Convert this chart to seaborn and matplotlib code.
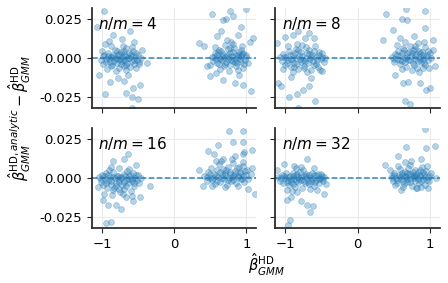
import matplotlib
matplotlib.use("Agg")
import matplotlib.pyplot as plt
import seaborn as sns
import pandas as pd

# ratios shown in the four panels
ratios = [4, 8, 16, 32]

# (beta_hd, diff * 1e3), one list per panel
pts_4 = [
    (-0.98, 1.2), (-0.95, -2.5), (-0.92, 3.4), (-0.90, -0.8), (-0.88, 0.5), (-0.86, -4.1),
    (-0.85, 2.2), (-0.83, -1.6), (-0.82, 5.0), (-0.80, 0.3), (-0.79, -3.2), (-0.78, 1.8),
    (-0.76, -6.0), (-0.75, -0.5), (-0.74, 3.9), (-0.73, -2.1), (-0.72, 0.9), (-0.70, -4.8),
    (-0.69, 2.7), (-0.68, -1.0), (-0.66, 6.2), (-0.65, -2.9), (-0.64, 0.0), (-0.62, 3.1),
    (-0.61, -5.5), (-0.60, 1.4), (-0.58, -1.8), (-0.57, 4.4), (-0.55, -3.6), (-0.54, 0.7),
    (-0.52, -0.9), (-0.50, 2.3), (-0.48, -2.4), (-0.46, 0.2), (-1.02, -1.3), (-1.00, 4.6),
    (-0.93, -6.8), (-0.87, 7.5), (-0.81, -8.2), (-0.71, 8.0), (-0.67, -7.6), (-0.59, 7.1),
    (-0.53, -6.4), (-0.44, 5.3), (-0.96, 8.9),
    (-0.97, 2.0), (-0.94, -0.3), (-0.91, 1.5), (-0.89, -2.7), (-0.84, 0.8), (-0.81, -0.4),
    (-0.77, 2.9), (-0.74, -3.8), (-0.71, -1.4), (-0.68, 1.1), (-0.66, -4.4), (-0.63, -0.1),
    (-0.60, 2.6), (-0.56, -1.0), (-0.53, 3.6), (-0.49, -4.0), (-0.87, -5.0), (-0.79, 4.5),
    (-0.69, 4.8), (-0.99, -3.7),
    (-0.97, 30.0), (-1.07, 20.0), (-0.61, 17.0), (-0.84, 14.5), (-0.72, 12.0), (-0.96, -23.0),
    (-0.57, -19.0), (-0.70, -14.7), (-0.59, -25.0), (-0.50, -26.0), (-0.38, -3.0), (-0.47, -17.0),
    (-0.59, -31.5), (-0.66, -22.0), (-0.89, -15.0), (-1.04, -11.0), (-0.78, -12.5), (-0.64, -10.5),
    (-0.90, 11.0), (-0.55, 10.0),
    (0.52, 0.8), (0.54, -2.0), (0.56, 3.5), (0.58, -0.5), (0.60, 1.9), (0.62, -3.8),
    (0.63, 0.2), (0.65, 4.6), (0.66, -1.4), (0.68, 2.6), (0.69, -5.2), (0.71, 0.9),
    (0.72, -2.7), (0.74, 5.8), (0.75, -0.3), (0.77, 3.0), (0.78, -4.4), (0.80, 1.2),
    (0.81, -1.9), (0.83, 6.5), (0.84, -0.7), (0.86, 2.3), (0.87, -3.3), (0.89, 0.5),
    (0.90, 4.1), (0.92, -2.2), (0.93, 1.6), (0.95, -6.1), (0.96, 3.3), (0.98, -0.9),
    (1.00, 2.0), (0.50, -4.5), (0.57, 6.9), (0.64, -7.0), (0.70, 8.2), (0.76, -7.9),
    (0.82, 9.0), (0.88, -7.3), (0.94, 7.8), (1.02, -3.0), (0.79, 10.5), (0.73, 11.5),
    (0.55, 1.0), (0.59, -2.8), (0.61, 3.9), (0.64, -0.6), (0.67, 1.5), (0.70, -3.6),
    (0.73, 2.2), (0.76, 0.6), (0.79, -1.0), (0.82, 3.8), (0.85, -2.3), (0.88, 1.9),
    (0.91, -0.2), (0.94, 2.7), (0.97, -3.9), (0.99, 0.8), (0.62, 5.5), (0.78, 6.8),
    (0.86, -5.2), (0.92, 5.1),
    (0.52, 28.0), (0.77, 30.0), (0.99, 31.0), (0.68, 24.0), (0.72, 25.0), (0.82, 27.0),
    (0.93, 20.0), (1.09, 12.6), (0.35, 9.5), (0.45, -5.0), (0.49, -11.5), (0.68, -13.7),
    (0.84, -15.8), (0.95, -16.8), (1.07, -21.0), (0.65, 17.0), (0.42, 8.0), (0.60, 14.0),
    (0.88, 15.0), (1.05, 10.0), (0.90, -11.0), (0.58, -9.5),
]

pts_8 = [
    (-1.07, 0.5), (-1.05, -2.0), (-1.03, 2.8), (-1.01, -4.2), (-0.99, 0.9), (-0.97, -1.4),
    (-0.95, 4.5), (-0.93, -5.6), (-0.92, -0.2), (-0.90, 2.1), (-0.88, -3.3), (-0.86, 5.8),
    (-0.85, 0.4), (-0.83, -6.9), (-0.81, 1.6), (-0.79, -2.5), (-0.78, 3.9), (-0.76, -0.9),
    (-0.74, -4.8), (-0.72, 7.0), (-0.71, 0.0), (-0.69, -2.9), (-0.67, 2.6), (-0.65, -7.5),
    (-0.64, 1.0), (-0.62, -1.7), (-0.60, 4.3), (-0.58, -3.8), (-0.57, 0.6), (-0.55, -5.4),
    (-0.53, 1.8), (-0.51, -0.6), (-0.49, 3.0), (-0.47, -2.2), (-0.45, 0.3), (-0.96, 8.0),
    (-0.84, 9.2), (-0.70, -9.0), (-0.77, 8.5), (-0.89, -8.6), (-0.59, 8.0), (-1.04, -7.0),
    (-0.52, -7.8),
    (-1.02, 1.0), (-0.98, -2.8), (-0.94, 1.9), (-0.91, -1.0), (-0.87, 3.0), (-0.84, -3.8),
    (-0.80, -0.5), (-0.77, 1.2), (-0.73, -2.0), (-0.70, 3.5), (-0.66, -0.8), (-0.63, 2.2),
    (-0.61, -4.6), (-0.56, -1.2), (-0.54, 3.8), (-0.50, 0.9), (-0.82, 5.5), (-0.75, -6.2),
    (-0.68, 5.0), (-0.88, -5.7),
    (-1.12, 9.5), (-1.00, 13.7), (-0.89, 14.7), (-0.73, 12.6), (-0.61, 13.0), (-0.82, 17.0),
    (-0.68, 16.0), (-1.10, -15.8), (-1.06, -17.5), (-0.95, -25.0), (-0.84, -23.0), (-0.76, -20.0),
    (-0.68, -18.0), (-0.59, -27.0), (-0.82, -31.5), (-0.50, -8.4), (-0.92, -12.0), (-0.64, -12.5),
    (0.48, 0.6), (0.50, -2.4), (0.52, 2.8), (0.54, -0.5), (0.56, 4.6), (0.58, -4.0),
    (0.60, 1.3), (0.62, -1.8), (0.63, 6.5), (0.65, 0.2), (0.67, -5.5), (0.69, 3.1),
    (0.70, -0.9), (0.72, 8.0), (0.74, 1.7), (0.76, -3.2), (0.77, 5.0), (0.79, -0.2),
    (0.81, 2.4), (0.82, -6.3), (0.84, 9.5), (0.86, 0.9), (0.88, -2.7), (0.89, 4.0),
    (0.91, -0.7), (0.93, 7.0), (0.94, -4.6), (0.96, 2.0), (0.98, -1.4), (1.00, 3.6),
    (1.02, 0.0), (0.55, 8.5), (0.66, 10.0), (0.75, -7.8), (0.85, -8.5), (0.92, 10.5),
    (0.99, -6.5), (0.71, 4.2), (0.80, 6.0), (0.87, 3.0), (0.61, -7.0), (1.04, 5.5),
    (0.51, -0.2), (0.55, 1.8), (0.59, -1.0), (0.62, 3.3), (0.66, -2.7), (0.69, 0.6),
    (0.73, -1.2), (0.75, 3.2), (0.78, -4.2), (0.80, 1.1), (0.83, -1.6), (0.85, 4.8),
    (0.87, -0.5), (0.90, 1.9), (0.92, -3.0), (0.95, 0.5), (0.97, 4.4), (0.64, 5.0),
    (0.79, 7.5), (0.90, -6.0),
    (0.39, 28.0), (0.67, 31.0), (0.93, 30.0), (0.61, 25.0), (0.68, 24.0), (0.49, 18.0),
    (0.35, 11.6), (0.93, 19.0), (1.05, 11.6), (0.52, -10.5), (0.63, -15.8), (0.70, -15.0),
    (0.86, -15.8), (0.95, -20.0), (1.00, -19.0), (0.65, -27.3), (0.72, -29.0), (1.07, -5.0),
    (0.78, 14.0), (0.58, 13.0),
]

pts_16 = [
    (-1.04, 0.8), (-1.02, -2.5), (-1.00, 1.9), (-0.98, -4.6), (-0.96, -0.7), (-0.94, 2.8),
    (-0.93, -6.2), (-0.91, -1.8), (-0.89, 0.6), (-0.87, -3.9), (-0.85, 3.5), (-0.84, -7.8),
    (-0.82, -0.3), (-0.80, -5.4), (-0.79, 1.4), (-0.77, -2.9), (-0.75, -9.2), (-0.74, 0.2),
    (-0.72, -4.4), (-0.70, 2.3), (-0.69, -6.8), (-0.67, -1.2), (-0.65, 4.1), (-0.64, -3.3),
    (-0.62, 0.9), (-0.60, -8.5), (-0.59, -2.0), (-0.57, 2.9), (-0.55, -5.0), (-0.54, 0.0),
    (-0.52, -1.5), (-0.50, 1.7), (-0.48, -3.0), (-0.46, -0.4), (-0.97, -10.0), (-0.86, -11.0),
    (-0.71, -10.6), (-0.63, 5.5), (-0.58, -11.5), (-0.90, 5.0), (-0.76, 6.0), (-1.05, -5.8),
    (-0.66, -12.5),
    (-1.01, -1.0), (-0.97, 0.9), (-0.95, -3.2), (-0.92, 1.8), (-0.88, -2.2), (-0.85, 0.3),
    (-0.81, -3.6), (-0.78, 1.1), (-0.76, -1.5), (-0.73, 0.4), (-0.70, -2.6), (-0.68, 1.0),
    (-0.66, -5.5), (-0.63, -1.0), (-0.61, 2.0), (-0.58, -0.5), (-0.56, -3.4), (-0.53, 1.5),
    (-0.83, -6.5), (-0.77, -7.0),
    (-0.84, 11.0), (-0.64, 15.0), (-0.88, 7.0), (-0.34, -5.0), (-0.98, -14.0), (-0.91, -17.0),
    (-0.73, -20.0), (-0.57, -15.0), (-0.87, -28.0), (-0.94, -29.0), (-0.80, -17.0), (-0.47, -12.0),
    (-0.69, 12.0), (-0.53, 8.0),
    (0.42, 1.0), (0.45, -2.2), (0.47, 3.6), (0.49, 0.2), (0.51, 6.0), (0.53, -1.5),
    (0.55, 2.5), (0.57, -4.0), (0.59, 4.8), (0.61, 0.7), (0.62, 8.5), (0.64, -2.8),
    (0.66, 1.9), (0.68, 5.5), (0.69, -0.6), (0.71, 3.2), (0.73, -4.8), (0.74, 7.2),
    (0.76, 0.0), (0.78, 2.7), (0.79, -2.1), (0.81, 9.5), (0.83, 1.3), (0.85, 4.4),
    (0.86, -3.5), (0.88, 0.5), (0.90, 6.6), (0.92, -1.0), (0.93, 2.9), (0.95, 10.2),
    (0.97, -2.6), (0.99, 1.6), (1.01, 4.8), (1.03, -0.8), (1.06, 2.2), (0.58, 10.5),
    (0.70, -6.0), (0.80, 12.0), (0.89, -5.5), (0.96, 7.8), (0.65, 11.0), (0.52, -5.0),
    (1.08, 6.5),
    (0.46, 0.5), (0.50, 2.6), (0.54, -0.4), (0.58, 1.4), (0.60, -1.9), (0.63, 3.6),
    (0.67, -0.2), (0.70, 1.8), (0.72, 4.8), (0.75, -1.6), (0.77, 3.8), (0.80, 0.7),
    (0.82, -1.2), (0.84, 2.4), (0.87, 6.0), (0.89, 1.0), (0.91, 3.8), (0.94, -0.5),
    (0.96, 1.2), (0.98, 4.2),
    (0.76, 30.0), (0.95, 30.0), (0.82, 23.0), (0.95, 23.0), (0.61, 21.0), (0.47, 17.0),
    (0.68, 12.0), (1.08, 18.0), (0.95, 15.0), (0.97, 16.5), (0.35, 5.0), (1.02, -7.0),
    (1.12, -10.0), (0.40, -5.0), (0.85, 14.0), (0.55, 15.0),
]

pts_32 = [
    (-1.10, 0.5), (-1.07, -1.8), (-1.05, 2.1), (-1.03, -3.5), (-1.01, 0.2), (-0.99, 3.0),
    (-0.97, -1.2), (-0.95, -4.6), (-0.94, 1.1), (-0.92, -2.4), (-0.90, 2.8), (-0.88, -0.6),
    (-0.87, -5.8), (-0.85, 1.7), (-0.83, -2.9), (-0.82, 0.4), (-0.80, 3.6), (-0.78, -1.5),
    (-0.77, -6.5), (-0.75, 0.9), (-0.73, -3.1), (-0.72, 2.4), (-0.70, -0.2), (-0.68, -4.0),
    (-0.67, 1.5), (-0.65, -2.2), (-0.63, 3.3), (-0.62, -0.8), (-0.60, -5.1), (-0.58, 1.9),
    (-0.57, -1.6), (-0.55, 2.6), (-0.53, -3.4), (-0.52, 0.0), (-0.50, 1.3), (-0.48, -2.0),
    (-0.46, 0.7), (-0.98, -7.5), (-0.91, -8.3), (-0.84, -9.0), (-0.76, 4.8), (-0.66, -7.2),
    (-0.56, -8.0), (-0.44, -4.2), (-1.12, 5.0),
    (-1.06, 0.0), (-1.02, 1.4), (-0.98, -2.4), (-0.96, 0.6), (-0.93, -1.0), (-0.89, 1.2),
    (-0.86, -2.0), (-0.84, 2.6), (-0.81, -0.9), (-0.79, 0.8), (-0.74, -1.8), (-0.71, 1.0),
    (-0.69, -2.8), (-0.64, 0.2), (-0.61, 1.8), (-0.59, -2.6), (-0.54, -0.9), (-0.51, 2.2),
    (-0.49, -1.0), (-0.89, -4.2),
    (-1.02, 9.0), (-0.88, 7.5), (-0.70, 11.8), (-0.79, 7.0), (-0.98, -14.0), (-0.79, -15.0),
    (-0.70, -17.0), (-0.62, -18.0), (-0.66, -22.0), (-0.94, -27.0), (-0.96, -30.0), (-0.47, -10.0),
    (-0.93, -12.0), (-0.86, 6.5), (-0.60, 6.0),
    (0.47, 1.0), (0.49, -2.0), (0.51, 3.2), (0.53, 0.1), (0.55, -3.5), (0.57, 2.0),
    (0.59, 5.5), (0.60, -1.0), (0.62, 1.8), (0.64, -4.2), (0.65, 4.0), (0.67, 0.4),
    (0.69, -2.6), (0.70, 6.2), (0.72, -0.5), (0.74, 2.7), (0.75, -5.0), (0.77, 1.2),
    (0.79, 4.8), (0.80, -1.8), (0.82, 0.6), (0.84, 3.6), (0.85, -3.2), (0.87, 1.5),
    (0.89, 6.8), (0.90, -0.9), (0.92, 2.4), (0.94, -4.5), (0.95, 4.2), (0.97, 0.3),
    (0.99, -2.3), (1.01, 2.9), (0.56, 7.5), (0.63, -6.0), (0.73, 8.0), (0.81, -6.5),
    (0.88, -5.8), (0.96, 7.8), (0.68, 3.3), (0.78, -0.2), (0.86, 5.3), (0.52, -4.8),
    (0.98, -6.2),
    (0.48, -0.4), (0.50, 1.8), (0.54, -1.5), (0.58, 0.6), (0.61, 3.0), (0.63, -2.0),
    (0.66, 1.4), (0.68, -0.8), (0.71, 2.6), (0.73, -2.6), (0.76, 3.5), (0.78, 0.9),
    (0.81, 2.0), (0.83, -0.6), (0.86, 1.0), (0.88, -2.0), (0.91, 3.4), (0.93, 0.7),
    (0.96, -1.2), (1.00, 1.0),
    (0.94, 31.0), (0.95, 19.0), (0.67, 19.5), (1.07, 20.0), (0.56, 14.0), (0.38, 8.0),
    (0.74, 11.0), (0.82, -6.7), (0.60, -7.5), (1.09, 0.0), (0.88, 12.0), (0.45, 5.0),
    (0.65, 10.0),
]

panel_pts = [pts_4, pts_8, pts_16, pts_32]

sns.set_theme(style="ticks", rc={"axes.grid": True, "grid.color": "#ebebeb",
                                  "grid.linewidth": 0.8, "axes.edgecolor": "#262626",
                                  "xtick.color": "#262626", "ytick.color": "#262626",
                                  "text.color": "black", "xtick.labelcolor": "black",
                                  "ytick.labelcolor": "black"})
plt.rcParams['font.family'] = ['DejaVu Sans']

fig, axes = plt.subplots(2, 2, figsize=(4.48, 2.83), dpi=100, sharex=True, sharey=True)
fig.subplots_adjust(left=0.205, right=0.982, top=0.972, bottom=0.194, wspace=0.115, hspace=0.19)

for ax, r, pts in zip(axes.flat, ratios, panel_pts):
    df = pd.DataFrame(pts, columns=["beta", "diff"])
    df["diff"] = df["diff"] * 1e-3
    sns.scatterplot(data=df, x="beta", y="diff", ax=ax, color="#1f77b4", alpha=0.32,
                    s=18, edgecolor="#1f77b4", linewidth=0.6)
    ax.axhline(0, color="#1f77b4", ls="--", lw=1.1, alpha=0.9)
    ax.text(0.04, 0.93, rf"$n/m = {r}$", transform=ax.transAxes, fontsize=11,
            va="top", ha="left")
    ax.set_xlabel("")
    ax.set_ylabel("")
    ax.tick_params(labelsize=9.5, length=3.5, width=0.8)
    sns.despine(ax=ax)

axes[0, 0].set_xlim(-1.14, 1.14)
axes[0, 0].set_ylim(-0.032, 0.032)
axes[0, 0].set_yticks([-0.025, 0.0, 0.025])
axes[0, 0].set_xticks([-1, 0, 1])
axes[0, 0].yaxis.set_major_formatter(matplotlib.ticker.FormatStrFormatter("%.3f"))

fig.text(0.045, 0.583,
         r"$\hat{\beta}^{\mathrm{HD},analytic}_{GMM} - \hat{\beta}^{\mathrm{HD}}_{GMM}$",
         rotation=90, ha="center", va="center", fontsize=10.5)
fig.text(0.594, 0.065, r"$\hat{\beta}^{\mathrm{HD}}_{GMM}$", ha="center", va="center",
         fontsize=10.5)

fig.savefig("out.png", dpi=100)
